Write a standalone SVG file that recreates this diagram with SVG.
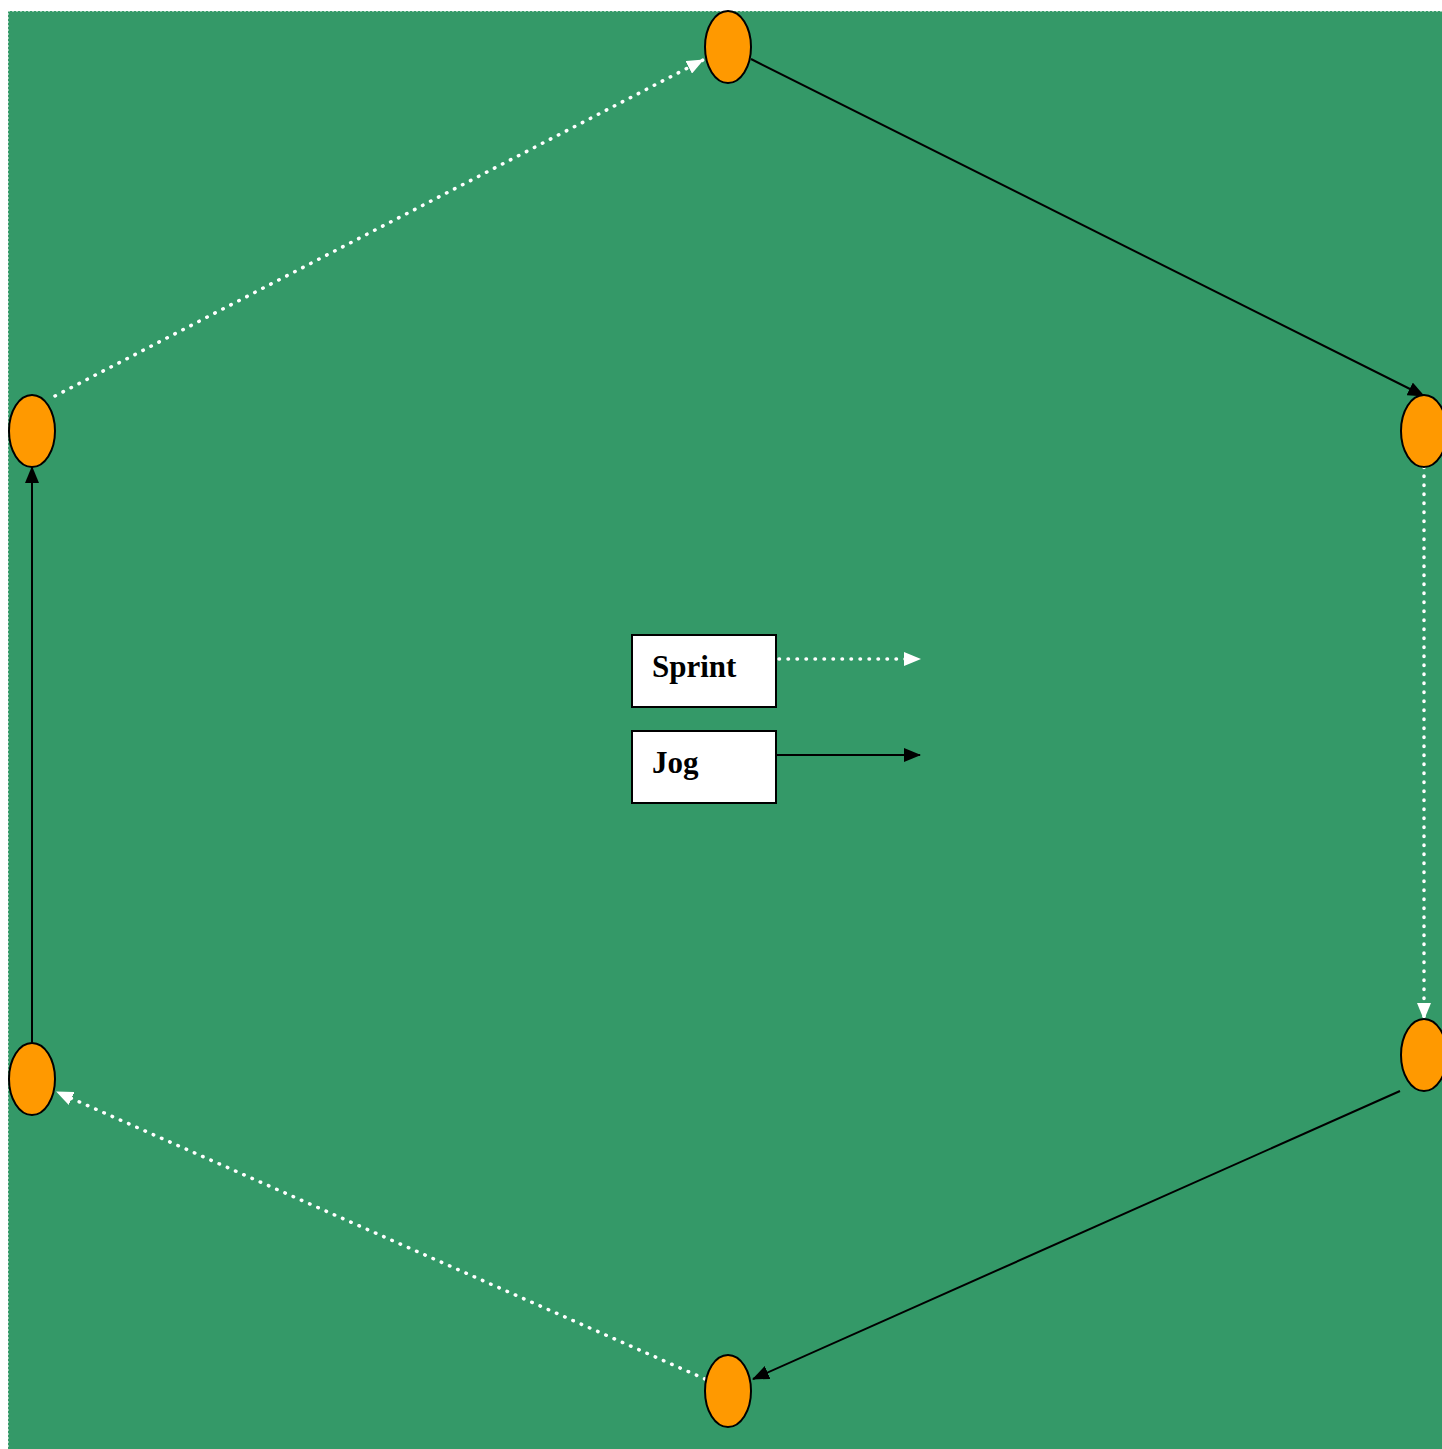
<svg xmlns="http://www.w3.org/2000/svg" width="1442" height="1449" viewBox="0 0 1442 1449">
<style>
.node{fill:#ff9900;stroke:#000;stroke-width:2}
.jog{stroke:#000;stroke-width:2;fill:none}
.sprint{stroke:#fff;stroke-width:3.5;fill:none;stroke-dasharray:0.5 8.5;stroke-linecap:round}
.box{fill:#fff;stroke:#000;stroke-width:2}
.lbl{font-family:"Liberation Serif","Times New Roman",serif;font-weight:bold;font-size:31px;fill:#000}
</style>
<defs>
<marker id="ab" markerWidth="17" markerHeight="14" refX="16" refY="7" orient="auto" markerUnits="userSpaceOnUse"><path d="M0,0 L17,7 L0,14 Z" fill="#000"/></marker>
<marker id="aw" markerWidth="17" markerHeight="14" refX="16" refY="7" orient="auto" markerUnits="userSpaceOnUse"><path d="M0,0 L17,7 L0,14 Z" fill="#fff"/></marker>
</defs>
<rect x="8" y="11" width="1440" height="1444" fill="#349968" stroke="#fff" stroke-width="1" stroke-dasharray="2 2"/>
<g id="connectors">
<line class="sprint" x1="55" y1="396" x2="703" y2="60" marker-end="url(#aw)"/>
<line class="jog" x1="751" y1="59" x2="1424" y2="396" marker-end="url(#ab)"/>
<line class="sprint" x1="1424" y1="467" x2="1424" y2="1019" marker-end="url(#aw)"/>
<line class="jog" x1="1400" y1="1091" x2="753" y2="1379" marker-end="url(#ab)"/>
<line class="sprint" x1="705" y1="1379" x2="57" y2="1092" marker-end="url(#aw)"/>
<line class="jog" x1="32" y1="1043" x2="32" y2="467" marker-end="url(#ab)"/>
<line class="sprint" x1="779" y1="659" x2="920" y2="659" marker-end="url(#aw)"/>
<line class="jog" x1="777" y1="755" x2="920" y2="755" marker-end="url(#ab)"/>
</g>
<g id="n_top"><ellipse class="node" cx="728" cy="47" rx="23" ry="36"/></g>
<g id="n_right"><ellipse class="node" cx="1424" cy="431" rx="23" ry="36"/></g>
<g id="n_rightbottom"><ellipse class="node" cx="1424" cy="1055" rx="23" ry="36"/></g>
<g id="n_bottom"><ellipse class="node" cx="728" cy="1391" rx="23" ry="36"/></g>
<g id="n_leftbottom"><ellipse class="node" cx="32" cy="1079" rx="23" ry="36"/></g>
<g id="n_lefttop"><ellipse class="node" cx="32" cy="431" rx="23" ry="36"/></g>
<g id="legend_sprint"><rect class="box" x="632" y="635" width="144" height="72"/><text class="lbl" x="652" y="677">Sprint</text></g>
<g id="legend_jog"><rect class="box" x="632" y="731" width="144" height="72"/><text class="lbl" x="652" y="773">Jog</text></g>
</svg>
